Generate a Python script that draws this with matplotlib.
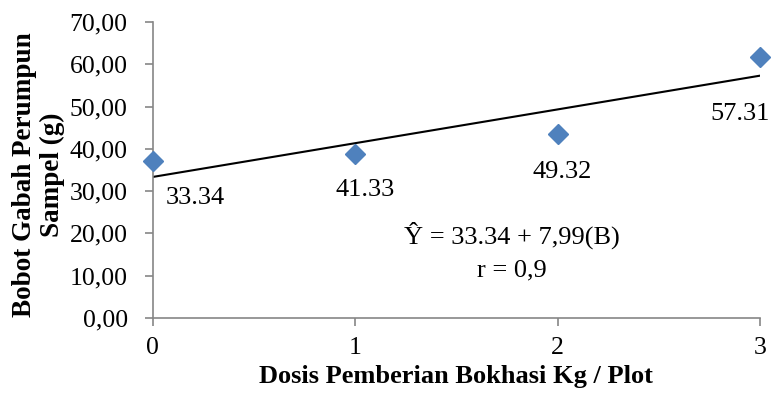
import matplotlib.pyplot as plt
from matplotlib.ticker import FuncFormatter

# data
dosis = [0, 1, 2, 3]
bobot = [37.0, 38.8, 43.5, 61.8]
trend = [33.34, 41.33, 49.32, 57.31]
trend_labels = ["33.34", "41.33", "49.32", "57.31"]

plt.rcParams['font.family'] = ['Liberation Serif', 'DejaVu Serif']

fig = plt.figure(figsize=(7.71, 4.15), dpi=100)
ax = fig.add_axes([0.198, 0.234, 0.788, 0.713])

ax.plot(dosis, trend, color='black', lw=1.5, zorder=2)
ax.plot(dosis, bobot, linestyle='none', marker='D', markersize=10.5,
        color='#4F81BD', zorder=3, clip_on=False)

# trend value labels (placed like the text boxes in the original)
label_pos = [(0.21, 28.4), (1.05, 30.2), (2.02, 34.5), (2.90, 48.2)]
for (lx, ly), t in zip(label_pos, trend_labels):
    ax.text(lx, ly, t, ha='center', va='center', fontsize=19)

ax.text(1.775, 17.5, "Ŷ = 33.34 + 7,99(B)", ha='center', va='baseline', fontsize=19)
ax.text(1.775, 9.9, "r = 0,9", ha='center', va='baseline', fontsize=19)

ax.set_xlim(0, 3)
ax.set_ylim(0, 70)
ax.set_xticks(dosis)
ax.set_yticks(range(0, 71, 10))
ax.yaxis.set_major_formatter(FuncFormatter(lambda v, p: f"{v:.2f}".replace('.', ',')))

for s in ['top', 'right']:
    ax.spines[s].set_visible(False)
for s in ['left', 'bottom']:
    ax.spines[s].set_color('#868686')
    ax.spines[s].set_linewidth(1.2)
ax.tick_params(axis='both', colors='#868686', labelcolor='black', labelsize=18.5,
               length=6, width=1.2)
ax.tick_params(axis='x', pad=8)
ax.tick_params(axis='y', pad=12)

ax.set_xlabel("Dosis Pemberian Bokhasi Kg / Plot", fontsize=19, fontweight='bold',
              labelpad=4)
ax.set_ylabel("Bobot Gabah Perumpun\nSampel (g)", fontsize=19.5, fontweight='bold',
              linespacing=1.15)
ax.yaxis.set_label_coords(-0.145, 0.483)

fig.savefig("out.png", dpi=100)
